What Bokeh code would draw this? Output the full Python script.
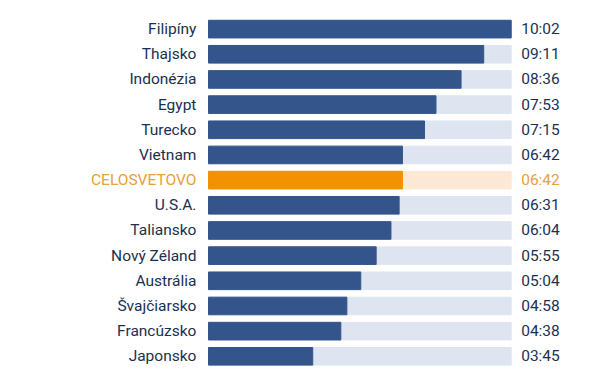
from bokeh.plotting import figure
from bokeh.models import ColumnDataSource, Range1d
from bokeh.core.properties import value
from bokeh.embed import file_html
from bokeh.resources import INLINE

countries = ["Filipíny", "Thajsko", "Indonézia", "Egypt", "Turecko", "Vietnam",
             "CELOSVETOVO", "U.S.A.", "Taliansko", "Nový Zéland", "Austrália",
             "Švajčiarsko", "Francúzsko", "Japonsko"]
values = [10.02, 9.11, 8.36, 7.53, 7.15, 6.42, 6.42, 6.31, 6.04, 5.55, 5.04, 4.58, 4.38, 3.45]
time_labels = ["10:02", "09:11", "08:36", "07:53", "07:15", "06:42", "06:42",
               "06:31", "06:04", "05:55", "05:04", "04:58", "04:38", "03:45"]
highlight = "CELOSVETOVO"

DARK = "#34558c"
LIGHT = "#dee5f0"
ORANGE = "#f39200"
LIGHT_ORANGE = "#fde8d6"
TEXT = "#1b3050"
TEXT_ORANGE = "#e8a03a"

n = len(countries)
vmax = max(values)
ys = [n - 1 - i for i in range(n)]

src = ColumnDataSource(dict(
    y=ys, v=values, full=[vmax] * n, name=countries, t=time_labels,
    fc=[ORANGE if c == highlight else DARK for c in countries],
    bc=[LIGHT_ORANGE if c == highlight else LIGHT for c in countries],
    tc=[TEXT_ORANGE if c == highlight else TEXT for c in countries],
))

W, H = 598, 375
left_px, bar_px = 208, 302.7
ppu = bar_px / vmax
row_px = 25.17
top = (n - 1) + 28.6 / row_px
p = figure(width=W, height=H, output_backend="svg", toolbar_location=None,
           x_range=Range1d(-left_px / ppu, (W - left_px) / ppu),
           y_range=Range1d(top - H / row_px, top),
           min_border=0, min_border_left=0, min_border_right=0,
           min_border_top=0, min_border_bottom=0)
p.axis.visible = False
p.grid.visible = False
p.outline_line_color = None
p.background_fill_color = "white"

p.hbar(y="y", left=0, right="full", height=0.70, color="bc", source=src)
p.hbar(y="y", left=0, right="v", height=0.70, color="fc", source=src)

p.text(x=-0.4, y="y", text="name", text_color="tc", text_align="right",
       text_baseline="middle", text_font=value("Roboto"), text_font_size="15.5px",
       source=src)
p.text(x=vmax + 0.33, y="y", text="t", text_color="tc", text_align="left",
       text_baseline="middle", text_font=value("Roboto"), text_font_size="15.5px",
       source=src)

open("out.html", "w").write(file_html(p, INLINE))
